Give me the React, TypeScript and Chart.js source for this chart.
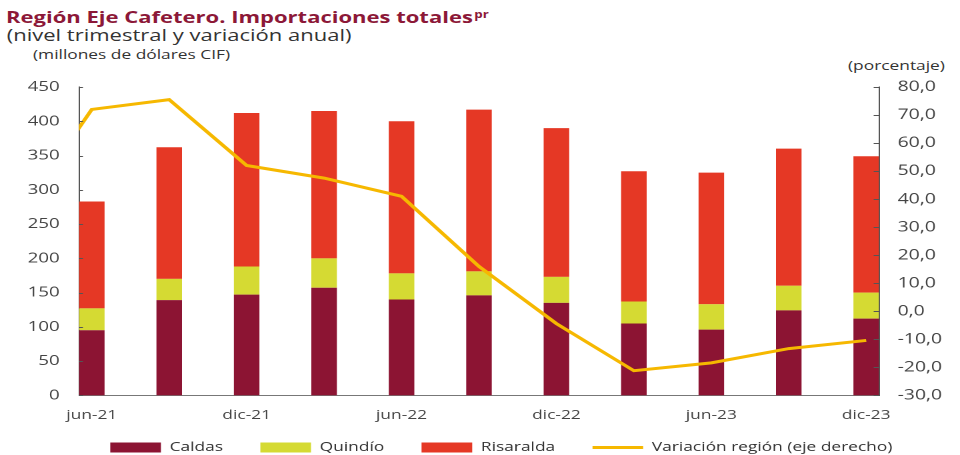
import React, { useEffect, useRef } from 'react';
import { Chart, registerables } from 'chart.js';

Chart.register(...registerables);

// ---- data ----
const quarters = ['jun-21', 'sep-21', 'dic-21', 'mar-22', 'jun-22', 'sep-22', 'dic-22', 'mar-23', 'jun-23', 'sep-23', 'dic-23'];
const xTickLabels = ['jun-21', 'dic-21', 'jun-22', 'dic-22', 'jun-23', 'dic-23'];
const caldas = [95, 139, 147, 157, 140, 146, 135, 105, 96, 124, 112];
const quindio = [32, 31, 41, 43, 38, 35, 38, 32, 37, 36, 38];
const risaralda = [156, 192, 224, 215, 222, 236, 217, 190, 192, 200, 199];
// annual variation (right axis); first value (mar-21) lies left of the plotted range
const variacionQuarters = ['mar-21', ...quarters];
const variacion = [32, 72, 75.5, 52, 47.5, 41, 16, -4.4, -21.2, -18.4, -13.3, -10.4];

const leftTicks = [0, 50, 100, 150, 200, 250, 300, 350, 400, 450];
const rightTicks = [-30, -20, -10, 0, 10, 20, 30, 40, 50, 60, 70, 80];

const FONT = '"Open Sans", sans-serif';
const S = 960 / 720;
const W = 752;
const H = 486;

const innerTicks = {
  id: 'innerTicks',
  afterLayout(chart: any) {
    // lift the legend row closer to the axis labels
    if (chart.legend) {
      chart.legend.top -= 22;
      chart.legend.bottom -= 22;
    }
  },
  afterDatasetsDraw(chart: any) {
    const ctx = chart.ctx;
    const y = chart.scales.y;
    const y1 = chart.scales.y1;
    ctx.save();
    ctx.strokeStyle = '#555';
    ctx.lineWidth = 1;
    y.ticks.forEach((t: any) => {
      const py = Math.round(y.getPixelForValue(t.value)) + 0.5;
      ctx.beginPath();
      ctx.moveTo(y.right, py);
      ctx.lineTo(y.right + 3, py);
      ctx.stroke();
    });
    y1.ticks.forEach((t: any) => {
      const py = Math.round(y1.getPixelForValue(t.value)) + 0.5;
      ctx.beginPath();
      ctx.moveTo(y1.left, py);
      ctx.lineTo(y1.left - 4, py);
      ctx.stroke();
    });
    ctx.restore();
  },
};

export default function App() {
  const ref = useRef<HTMLCanvasElement | null>(null);

  useEffect(() => {
    if (!ref.current) return;
    const barCommon = {
      type: 'bar',
      borderWidth: 0,
      pointStyle: 'rect',
      yAxisID: 'y',
      barPercentage: 0.33,
      categoryPercentage: 1,
    };
    const chart = new Chart(ref.current, {
      type: 'bar',
      data: {
        datasets: [
          { ...barCommon, label: 'Caldas', data: caldas.map((v, i) => ({ x: i, y: v })), backgroundColor: '#8C1433' },
          { ...barCommon, label: 'Quindío', data: quindio.map((v, i) => ({ x: i, y: v })), backgroundColor: '#D5DA33' },
          { ...barCommon, label: 'Risaralda', data: risaralda.map((v, i) => ({ x: i, y: v })), backgroundColor: '#E53825' },
          {
            type: 'line',
            label: 'Variación región (eje derecho)',
            data: variacion.map((v, i) => ({ x: variacionQuarters.indexOf(variacionQuarters[i]) - 1, y: v })),
            borderColor: '#F6B800',
            backgroundColor: '#F6B800',
            borderWidth: 3,
            pointRadius: 0,
            pointHoverRadius: 0,
            pointStyle: 'line',
            tension: 0,
            yAxisID: 'y1',
            order: -1,
            clip: 0,
          },
        ] as any,
      },
      options: {
        animation: false,
        responsive: true,
        maintainAspectRatio: false,
        devicePixelRatio: 2,
        layout: { padding: { left: 0, right: 0, top: 87, bottom: 0 } },
        plugins: {
          title: { display: false },
          tooltip: { enabled: false },
          legend: {
            position: 'bottom',
            labels: {
              usePointStyle: true,
              pointStyleWidth: 38,
              boxHeight: 10,
              padding: 28,
              color: '#333',
              font: { family: FONT, size: 13 },
              sort: (a: any, b: any) => a.datasetIndex - b.datasetIndex,
            },
          },
        },
        scales: {
          x: {
            type: 'linear',
            offset: false,
            stacked: true,
            min: -0.165,
            max: 10.165,
            afterBuildTicks: (s: any) => {
              s.ticks = quarters.map((_, i) => ({ value: i }));
            },
            grid: { display: false, drawTicks: false },
            border: { display: true, color: '#777', width: 1 },
            ticks: {
              autoSkip: false,
              maxRotation: 0,
              padding: 12,
              color: '#444',
              font: { family: FONT, size: 13 },
              callback: (v: any) => {
                const q = quarters[Math.round(Number(v))];
                return xTickLabels.includes(q) ? q : '';
              },
            },
          },
          y: {
            type: 'linear',
            position: 'left',
            stacked: true,
            min: leftTicks[0],
            max: leftTicks[leftTicks.length - 1],
            afterBuildTicks: (s: any) => {
              s.ticks = leftTicks.map((v) => ({ value: v }));
            },
            afterFit: (s: any) => {
              s.width = 79 / S;
            },
            grid: { display: false, drawTicks: false },
            border: { display: true, color: '#555', width: 1 },
            ticks: {
              padding: 14.5,
              color: '#444',
              font: { family: FONT, size: 14 },
              callback: (v: any) => String(v),
            },
          },
          y1: {
            type: 'linear',
            position: 'right',
            stacked: false,
            min: rightTicks[0],
            max: rightTicks[rightTicks.length - 1],
            afterBuildTicks: (s: any) => {
              s.ticks = rightTicks.map((v) => ({ value: v }));
            },
            afterFit: (s: any) => {
              s.width = W - 879 / S;
            },
            grid: { display: false, drawTicks: false },
            border: { display: true, color: '#555', width: 1 },
            ticks: {
              padding: 14,
              color: '#444',
              font: { family: FONT, size: 14.5 },
              callback: (v: any) => Number(v).toFixed(1).replace('.', ','),
            },
          },
        },
      } as any,
      plugins: [innerTicks],
    });
    return () => chart.destroy();
  }, []);

  return (
    <div
      style={{
        position: 'fixed',
        left: 0,
        top: 0,
        width: W,
        height: H,
        transform: `scaleX(${S})`,
        transformOrigin: '0 0',
        fontFamily: FONT,
        background: '#fff',
      }}
    >
      <div
        style={{
          position: 'absolute',
          left: 4.5,
          top: 7,
          fontSize: 16.5,
          lineHeight: '20px',
          fontWeight: 700,
          color: '#8C1838',
          whiteSpace: 'nowrap',
        }}
      >
        Región Eje Cafetero. Importaciones totales
        <sup style={{ fontSize: 10, verticalAlign: 'top', position: 'relative', top: -3, marginLeft: 1 }}>pr</sup>
      </div>
      <div
        style={{
          position: 'absolute',
          left: 5,
          top: 26,
          fontSize: 16.5,
          lineHeight: '18px',
          color: '#333',
          whiteSpace: 'nowrap',
        }}
      >
        (nivel trimestral y variación anual)
      </div>
      <div
        style={{
          position: 'absolute',
          left: 24.75,
          top: 47,
          fontSize: 13,
          lineHeight: '15px',
          color: '#333',
          whiteSpace: 'nowrap',
        }}
      >
        (millones de dólares CIF)
      </div>
      <div
        style={{
          position: 'absolute',
          left: 636,
          top: 58,
          fontSize: 13,
          lineHeight: '15px',
          color: '#333',
          whiteSpace: 'nowrap',
        }}
      >
        (porcentaje)
      </div>
      <div style={{ position: 'absolute', left: 0, top: 0, width: W, height: H }}>
        <canvas ref={ref} />
      </div>
    </div>
  );
}
